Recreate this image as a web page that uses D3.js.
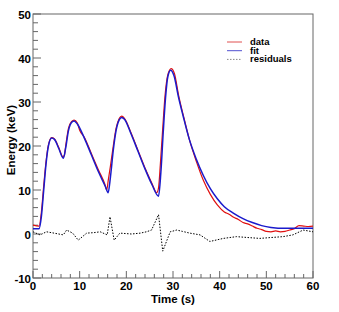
<!DOCTYPE html>
<html>
<head>
<meta charset="utf-8">
<script src="https://cdn.jsdelivr.net/npm/d3@7"></script>
<style>
body { margin: 0; background: #fff; }
text { font-family: "Liberation Sans", Arial, sans-serif; font-weight: bold; fill: #000; }
</style>
</head>
<body>
<div id="chart"></div>
<script>
// values (time in s, energy in keV)
var fitT = [0, 1.3, 1.8, 2.3, 2.8, 3.3, 4.0, 4.6, 5.5, 6.5, 7.0, 7.6, 8.3, 8.8, 9.5, 11, 12.5, 14, 15.5, 16.1,
	16.6, 17.2, 17.8, 18.5, 19.0, 19.6, 21, 22.5, 24, 25.5, 26.9, 27.4, 27.9, 28.4, 28.9, 29.5, 30.2, 31.2, 32.2,
	33.5, 35, 36.5, 38, 39.5, 41, 43, 45, 47, 49, 51, 54, 57, 60];
var fitE = [1.2, 1.2, 4, 10, 16, 20, 21.8, 21.5, 19.5, 17.2, 19.5, 23.5, 25.4, 25.7, 25, 21.8, 18, 14.2, 10.8, 9.4,
	13, 19, 23.5, 26, 26.5, 26.1, 22.8, 18.8, 14.8, 11.2, 8.6, 14, 23, 31, 35.8, 37.2, 36, 31, 26.7,
	21.5, 17, 13.3, 10.3, 8, 6.2, 4.7, 3.5, 2.6, 1.9, 1.5, 1.3, 1.3, 1.3];

var dataT = [0, 1.3, 1.8, 2.3, 2.8, 3.3, 4, 4.6, 5.5, 6.4, 6.7, 7.0, 7.6, 8.3, 8.8, 9.5, 10, 11, 12.5, 14, 15.4,
	15.8, 16.1, 16.6, 17.2, 17.8, 18.5, 19, 19.6, 21, 22.5, 24, 25.5, 26.5, 26.9, 27.3, 27.8, 28.3, 28.9, 29.6,
	30.3, 31.2, 32.2, 33.5, 35, 36.5, 38, 39.5, 41, 42, 43, 44, 45, 46, 47, 48, 49, 50, 51, 52, 53, 54, 55, 56,
	57, 58, 59, 60];
var dataE = [2.0, 1.8, 5, 11, 16.5, 20.2, 21.9, 21.6, 19.7, 17.6, 17.8, 20, 24, 25.6, 25.9, 25.2, 23.6, 22, 18.3, 14.6, 11.3,
	10.0, 12, 15.5, 20, 24, 26.3, 26.8, 26.3, 23, 19, 15, 11.5, 9.4, 10.5, 16, 24, 31.5, 36.2, 37.6,
	36.5, 31.5, 27, 21.5, 16.5, 12.2, 9.0, 6.6, 5.0, 4.5, 3.8, 3.3, 2.6, 2.3, 1.8, 1.3, 1.0, 0.6, 0.5, 0.7, 0.5, 0.6, 0.9, 1.2,
	1.9, 1.8, 1.7, 1.8];

var resT = [0, 1.5, 2.9, 4.5, 6.5, 7.2, 8.5, 9.7, 11.5, 13, 14.4, 15.9, 16.5, 17.4, 18.6, 21.1, 23, 24.3, 25.4, 26.9,
	27.8, 29.4, 30.8, 32, 33.6, 35.8, 37.9, 40.8, 43.6, 46, 48.6, 51, 53.6, 55.7, 57.9, 60];
var resE = [0.5, -0.2, 0.5, 0.2, -0.2, 0.9, 0.2, -1.4, 0.2, 0.3, 0.5, -0.2, 3.9, -1.4, 0.2, 0, 0.2, 0.5, 0.9, 4.4,
	-3.9, 0.5, 0.9, 0.6, 0.2, -0.2, -1.7, -1.0, -0.6, -0.8, -1.0, -0.8, -0.6, -0.2, 0.9, 0.5];

var xTicks = [0, 10, 20, 30, 40, 50, 60];
var yTicks = [-10, 0, 10, 20, 30, 40, 50];
var legendLabels = ["data", "fit", "residuals"];

var width = 339, height = 312;
// frame edges (note: "top" is taken by window.top, so prefix these)
var frLeft = 33, frRight = 313, frTop = 14, frBottom = 278;

var svg = d3.select("#chart").append("svg")
	.attr("width", width)
	.attr("height", height);

var x = d3.scaleLinear().domain([0, 60]).range([frLeft, frRight]);
var y = d3.scaleLinear().domain([-10, 50]).range([frBottom, frTop]);

// frame
svg.append("rect")
	.attr("x", frLeft).attr("y", frTop)
	.attr("width", frRight - frLeft).attr("height", frBottom - frTop)
	.attr("fill", "none").attr("stroke", "#666").attr("stroke-width", 1);

// minor ticks every 2 units, drawn inside the frame like ROOT does
var xMinor = d3.range(0, 61, 2);
var yMinor = d3.range(-10, 51, 2);
svg.selectAll(".xmin").data(xMinor).enter().append("line")
	.attr("x1", function (d) { return x(d); })
	.attr("x2", function (d) { return x(d); })
	.attr("y1", frBottom)
	.attr("y2", function (d) { return d % 10 == 0 ? frBottom - 7 : frBottom - 4; })
	.attr("stroke", "#666");
svg.selectAll(".ymin").data(yMinor).enter().append("line")
	.attr("y1", function (d) { return y(d); })
	.attr("y2", function (d) { return y(d); })
	.attr("x1", frLeft)
	.attr("x2", function (d) { return d % 10 == 0 ? frLeft + 8 : frLeft + 5; })
	.attr("stroke", "#666");

// tick labels
svg.selectAll(".xlab").data(xTicks).enter().append("text")
	.attr("x", function (d) { return x(d); })
	.attr("y", 290)
	.attr("text-anchor", "middle")
	.attr("font-size", "11.5px")
	.text(function (d) { return d; });
svg.selectAll(".ylab").data(yTicks).enter().append("text")
	.attr("x", 31)
	.attr("y", function (d) { return y(d) + 5; })
	.attr("text-anchor", "end")
	.attr("font-size", "11.5px")
	.text(function (d) { return d; });

// axis titles
svg.append("text")
	.attr("x", 173).attr("y", 303)
	.attr("text-anchor", "middle")
	.attr("font-size", "11.5px")
	.text("Time (s)");
svg.append("text")
	.attr("transform", "translate(15," + 140 + ") rotate(-90)")
	.attr("text-anchor", "middle")
	.attr("font-size", "11.5px")
	.text("Energy (keV)");

function makeLine(ts, es, curve) {
	var pts = ts.map(function (t, i) { return [t, es[i]]; });
	return d3.line()
		.x(function (d) { return x(d[0]); })
		.y(function (d) { return y(d[1]); })
		.curve(curve)(pts);
}

svg.append("path")
	.attr("d", makeLine(resT, resE, d3.curveLinear))
	.attr("fill", "none").attr("stroke", "#000").attr("stroke-width", 1)
	.attr("stroke-dasharray", "1.5,1.5");
svg.append("path")
	.attr("d", makeLine(dataT, dataE, d3.curveMonotoneX))
	.attr("fill", "none").attr("stroke", "#e01010").attr("stroke-width", 1.2);
svg.append("path")
	.attr("d", makeLine(fitT, fitE, d3.curveMonotoneX))
	.attr("fill", "none").attr("stroke", "#1a1acc").attr("stroke-width", 1.5);

// legend
var legColors = ["#e05050", "#5050d0", "#888"];
var legDash = [null, null, "1.5,1.5"];
var leg = svg.selectAll(".leg").data(legendLabels).enter().append("g")
	.attr("transform", function (d, i) { return "translate(227," + (42 + i * 8.7) + ")"; });
leg.append("line")
	.attr("x1", 0).attr("x2", 15)
	.attr("stroke", function (d, i) { return legColors[i]; })
	.attr("stroke-width", 1)
	.attr("stroke-dasharray", function (d, i) { return legDash[i]; });
leg.append("text")
	.attr("x", 23).attr("y", 3)
	.attr("font-size", "9.5px")
	.text(function (d) { return d; });
</script>
</body>
</html>
